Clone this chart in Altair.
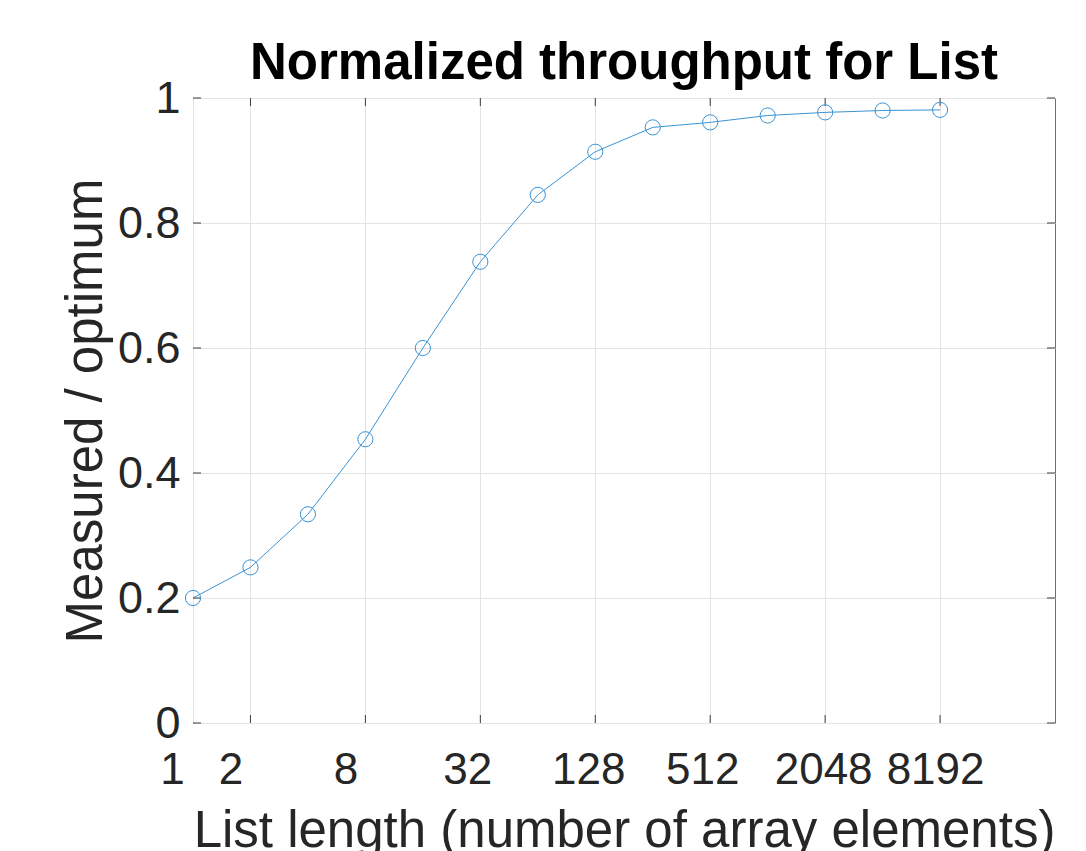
import altair as alt
import pandas as pd

# ---- data ----
lengths = [1, 2, 4, 8, 16, 32, 64, 128, 256, 512, 1024, 2048, 4096, 8192]
ratios = [0.200, 0.249, 0.334, 0.454, 0.600, 0.738, 0.845, 0.914,
          0.953, 0.961, 0.972, 0.977, 0.980, 0.981]
x_tick_values = [2, 8, 32, 128, 512, 2048, 8192]
x_label_values = [1, 2, 8, 32, 128, 512, 2048, 8192]
y_tick_values = [0, 0.2, 0.4, 0.6, 0.8, 1.0]

title_text = "Normalized throughput for List"
x_title = "List length (number of array elements)"
y_title = "Measured / optimum"

W, H = 862, 625
BLUE = "#3a93d4"
TEXT = "#262626"
FONT = "Liberation Sans"
TICK_LEN = 8

df = pd.DataFrame({"len": lengths, "ratio": ratios})
xt = pd.DataFrame({"len": x_tick_values})
yt = pd.DataFrame({"ratio": y_tick_values})

xscale = alt.Scale(type="log", base=2, domain=[1, 32768], nice=False)
yscale = alt.Scale(domain=[0, 1], nice=False, zero=False)

# small per-label horizontal shifts seen in the reference's tick labels
label_shift = {"condition": [
    {"test": "datum.value === 1", "value": -21},
    {"test": "datum.value === 2", "value": -20},
    {"test": "datum.value === 8", "value": -20},
    {"test": "datum.value === 32", "value": -13},
    {"test": "datum.value === 128", "value": -7},
    {"test": "datum.value === 512", "value": -8},
    {"test": "datum.value === 2048", "value": -2},
], "value": -5}

x_axis = alt.Axis(
    values=x_label_values, format="d", title=x_title,
    grid=True, gridColor="#e3e3e3", gridWidth=1,
    ticks=False, domain=False,
    labelFont=FONT, labelFontSize=44, labelColor=TEXT, labelPadding=25,
    labelOffset=label_shift, labelFlush=False,
    titleFont=FONT, titleFontSize=51, titleFontWeight="normal", titleColor=TEXT,
    titleBaseline="alphabetic", titleY=123, titleX=W / 2,
)
y_axis = alt.Axis(
    values=y_tick_values, format="~g", title=y_title,
    grid=True, gridColor="#e3e3e3", gridWidth=1,
    ticks=False, domain=False,
    labelFont=FONT, labelFontSize=45, labelColor=TEXT, labelPadding=13,
    labelFlush=False,
    titleFont=FONT, titleFontSize=51, titleFontWeight="normal", titleColor=TEXT,
    titleBaseline="alphabetic", titleAngle=270, titleX=-92, titleY=H / 2,
)

X = alt.X("len:Q", scale=xscale, axis=x_axis)
Y = alt.Y("ratio:Q", scale=yscale, axis=y_axis)

base = alt.Chart(df)

line = base.mark_line(color=BLUE, strokeWidth=1).encode(x=X, y=Y)
points = base.mark_point(shape="circle", filled=False, size=230,
                         color=BLUE, strokeWidth=1, opacity=1).encode(x=X, y=Y)

tick_color = "#3c3c3c"
xt_bottom = alt.Chart(xt).mark_rule(color=tick_color, strokeWidth=1).encode(
    x=X, y=alt.value(H), y2=alt.value(H - TICK_LEN),
)
xt_top = alt.Chart(xt).mark_rule(color=tick_color, strokeWidth=1).encode(
    x=X, y=alt.value(0), y2=alt.value(TICK_LEN),
)
yt_left = alt.Chart(yt).mark_rule(color=tick_color, strokeWidth=1).encode(
    y=Y, x=alt.value(0), x2=alt.value(TICK_LEN),
)
yt_right = alt.Chart(yt).mark_rule(color=tick_color, strokeWidth=1).encode(
    y=Y, x=alt.value(W), x2=alt.value(W - TICK_LEN),
)

chart = alt.layer(line, xt_bottom, xt_top, yt_left, yt_right, points).properties(
    width=W, height=H,
    title=alt.TitleParams(title_text, font=FONT, fontSize=51, fontWeight="bold",
                          color="#000000", anchor="middle", frame="group",
                          baseline="alphabetic", offset=19, dy=73),
    autosize=alt.AutoSizeParams(type="none"),
    padding={"left": 185, "top": 90, "right": 23, "bottom": 140},
    background="white",
).configure_view(stroke="#6e6e6e", strokeWidth=1)

chart.save("out.html", embed_options={"renderer": "svg", "actions": False})
